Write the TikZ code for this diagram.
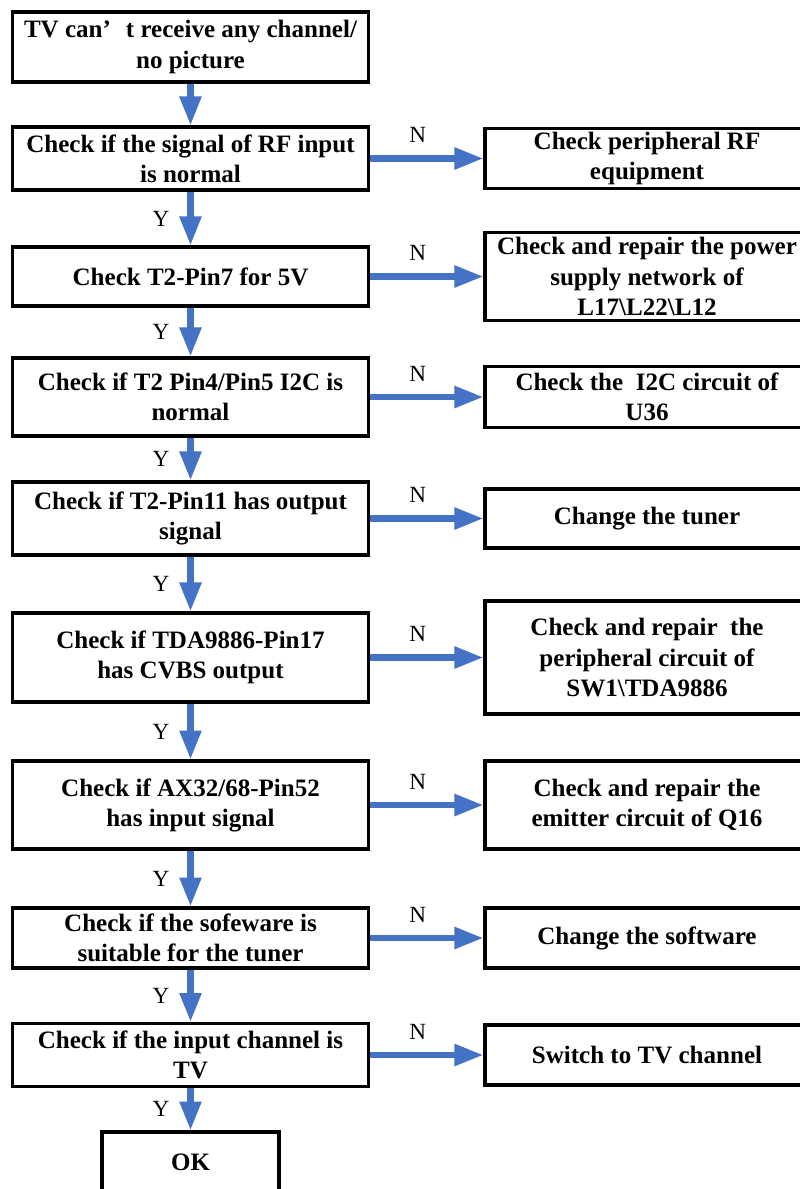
\documentclass[tikz,border=0pt]{standalone}
\usepackage{fontspec}
\setmainfont{Liberation Serif}
\usetikzlibrary{arrows.meta}
\definecolor{flowblue}{RGB}{68,114,196}

\begin{document}
\begin{tikzpicture}[x=0.025cm,y=-0.025cm,
		box/.style={draw,line width=2.4pt,align=center,inner sep=0pt,font=\fontsize{17.8}{21.4}\selectfont\bfseries},
		lbox/.style={box,minimum width=8.9cm},
		rbox/.style={box,minimum width=8.1cm},
		flow/.style={flowblue,line width=4.3pt,-{Triangle[length=0.72cm,width=0.52cm]}},
		yn/.style={text=black,font=\fontsize{16.5}{16.5}\selectfont,inner sep=0pt}]
				\useasboundingbox (0,0) rectangle (800,1189);
				
				\node[lbox,minimum height=1.75cm] (start) at (190.5,47) {TV can’\hspace{0.6em}t receive any channel/\\no picture};
				\node[lbox,minimum height=1.575cm] (rf) at (190.5,158.5) {Check if the signal of RF input\\is normal};
				\node[lbox,minimum height=1.475cm] (pin7) at (190.5,276.5) {Check T2-Pin7 for 5V};
				\node[lbox,minimum height=1.95cm] (iic) at (190.5,397) {Check if T2 Pin4/Pin5 I2C is\\normal};
				\node[lbox,minimum height=1.825cm] (pin11) at (190.5,518.5) {Check if T2-Pin11 has output\\signal};
				\node[lbox,minimum height=2.225cm] (cvbs) at (190.5,657.5) {Check if TDA9886-Pin17\\has CVBS output};
				\node[lbox,minimum height=2.2cm] (pin52) at (190.5,805) {Check if AX32/68-Pin52\\has input signal};
				\node[lbox,minimum height=1.5cm] (soft) at (190.5,938) {Check if the sofeware is\\suitable for the tuner};
				\node[lbox,minimum height=1.575cm] (chan) at (190.5,1055) {Check if the input channel is\\TV};
				\node[box,minimum width=4.425cm,minimum height=1.5cm] (ok) at (190.5,1162) {OK};
				
				\node[rbox,minimum height=1.5cm] (rfequip) at (647,158.5) {Check peripheral RF\\equipment};
				\node[rbox,minimum height=2.2cm] (power) at (647,276.5) {Check and repair the power\\supply network of\\L17\textbackslash L22\textbackslash L12};
				\node[rbox,minimum height=1.525cm] (u36) at (647,397) {Check the\ \ I2C circuit of\\U36};
				\node[rbox,minimum height=1.475cm] (tuner) at (647,518.5) {Change the tuner};
				\node[rbox,minimum height=2.825cm] (sw1) at (647,657.5) {Check and repair\ \ the\\peripheral circuit of\\SW1\textbackslash TDA9886};
				\node[rbox,minimum height=2.2cm] (q16) at (647,805) {Check and repair the\\emitter circuit of Q16};
				\node[rbox,minimum height=1.5cm] (software) at (647,938) {Change the software};
				\node[rbox,minimum height=1.5cm] (tvchan) at (647,1055) {Switch to TV channel};
				
				\draw[flow] (start) -- (rf);
				\draw[flow] (rf) -- node[yn,left=0.45cm] {Y} (pin7);
				\draw[flow] (pin7) -- node[yn,left=0.45cm] {Y} (iic);
				\draw[flow] (iic) -- node[yn,left=0.45cm] {Y} (pin11);
				\draw[flow] (pin11) -- node[yn,left=0.45cm] {Y} (cvbs);
				\draw[flow] (cvbs) -- node[yn,left=0.45cm] {Y} (pin52);
				\draw[flow] (pin52) -- node[yn,left=0.45cm] {Y} (soft);
				\draw[flow] (soft) -- node[yn,left=0.45cm] {Y} (chan);
				\draw[flow] (chan) -- node[yn,left=0.45cm] {Y} (ok);
				
				\draw[flow] (rf) -- node[yn,pos=0.42,above=0.32cm] {N} (rfequip);
				\draw[flow] (pin7) -- node[yn,pos=0.42,above=0.32cm] {N} (power);
				\draw[flow] (iic) -- node[yn,pos=0.42,above=0.32cm] {N} (u36);
				\draw[flow] (pin11) -- node[yn,pos=0.42,above=0.32cm] {N} (tuner);
				\draw[flow] (cvbs) -- node[yn,pos=0.42,above=0.32cm] {N} (sw1);
				\draw[flow] (pin52) -- node[yn,pos=0.42,above=0.32cm] {N} (q16);
				\draw[flow] (soft) -- node[yn,pos=0.42,above=0.32cm] {N} (software);
				\draw[flow] (chan) -- node[yn,pos=0.42,above=0.32cm] {N} (tvchan);
			\end{tikzpicture}
\end{document}
